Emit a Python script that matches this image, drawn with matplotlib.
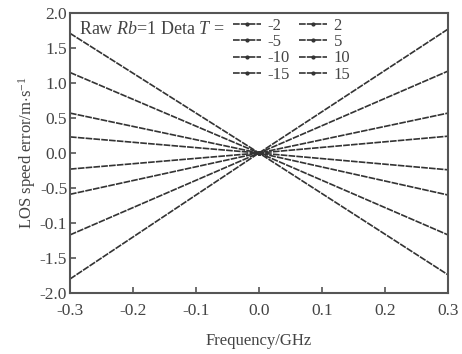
import numpy as np
import matplotlib.pyplot as plt

plt.rcParams.update({
    "font.family": "serif",
    "font.serif": ["Liberation Serif", "DejaVu Serif"],
    "mathtext.fontset": "custom",
    "mathtext.rm": "Liberation Serif",
    "mathtext.it": "Liberation Serif:italic",
    "font.size": 12,
})

# frequency points (GHz) and LOS speed error for each temperature offset
freq = [-0.3, 0.0, 0.3]
temps = [-2, -5, -10, -15, 2, 5, 10, 15]
err = {
    -2: [0.23, 0.0, -0.24],
    -5: [0.57, 0.0, -0.60],
    -10: [1.15, 0.0, -1.17],
    -15: [1.71, 0.0, -1.74],
    2: [-0.23, 0.0, 0.24],
    5: [-0.59, 0.0, 0.57],
    10: [-1.17, 0.0, 1.17],
    15: [-1.80, 0.0, 1.77],
}
xticks = [-0.3, -0.2, -0.1, 0.0, 0.1, 0.2, 0.3]
yticks = [2.0, 1.5, 1.0, 0.5, 0.0, -0.5, -1.0, -1.5, -2.0]
ytick_labels = ["2.0", "1.5", "1.0", "0.5", "0.0", "-0.5", "-0.1", "-1.5", "-2.0"]

COL = "#333333"
TXT = "#444444"
fig = plt.figure(figsize=(4.62, 3.54), dpi=100)
ax = fig.add_axes([70 / 462, 1 - 293 / 354, 378 / 462, 280 / 354])

for t in temps:
    ax.plot(freq, err[t], color=COL, lw=1.2, ls=(0, (4, 0.7)),
            marker=".", ms=4, markevery=[1], label=str(t))

ax.set_xlim(-0.3, 0.3)
ax.set_ylim(-2.0, 2.0)
ax.set_xticks(xticks)
ax.set_xticklabels([f"{v:.1f}" for v in xticks])
ax.set_yticks(yticks)
ax.set_yticklabels(ytick_labels)
ax.tick_params(direction="in", length=4, width=1.2, color="#555", labelsize=12.5,
               labelcolor=TXT)
ax.tick_params(axis="x", pad=7)
ax.tick_params(axis="y", pad=2)
for s in ax.spines.values():
    s.set_color("#555")
    s.set_linewidth(1.5)

ax.set_xlabel("Frequency/GHz", fontsize=12, labelpad=10, color=TXT)
ax.set_ylabel(r"LOS speed error/m$\cdot$s$^{-1}$", fontsize=12, labelpad=1, color=TXT)

ax.text(0.025, 0.94, r"Raw $Rb$=1 Deta $T$ =", transform=ax.transAxes,
        fontsize=13, va="center", ha="left", color=TXT)
leg = ax.legend(ncol=2, loc="upper left", bbox_to_anchor=(0.4, 1.025), frameon=False,
                handlelength=1.7, handletextpad=0.4, columnspacing=0.5,
                labelspacing=0.02, fontsize=12, borderaxespad=0.3)
for txt in leg.get_texts():
    txt.set_color(TXT)

fig.savefig("out.png", dpi=100)
